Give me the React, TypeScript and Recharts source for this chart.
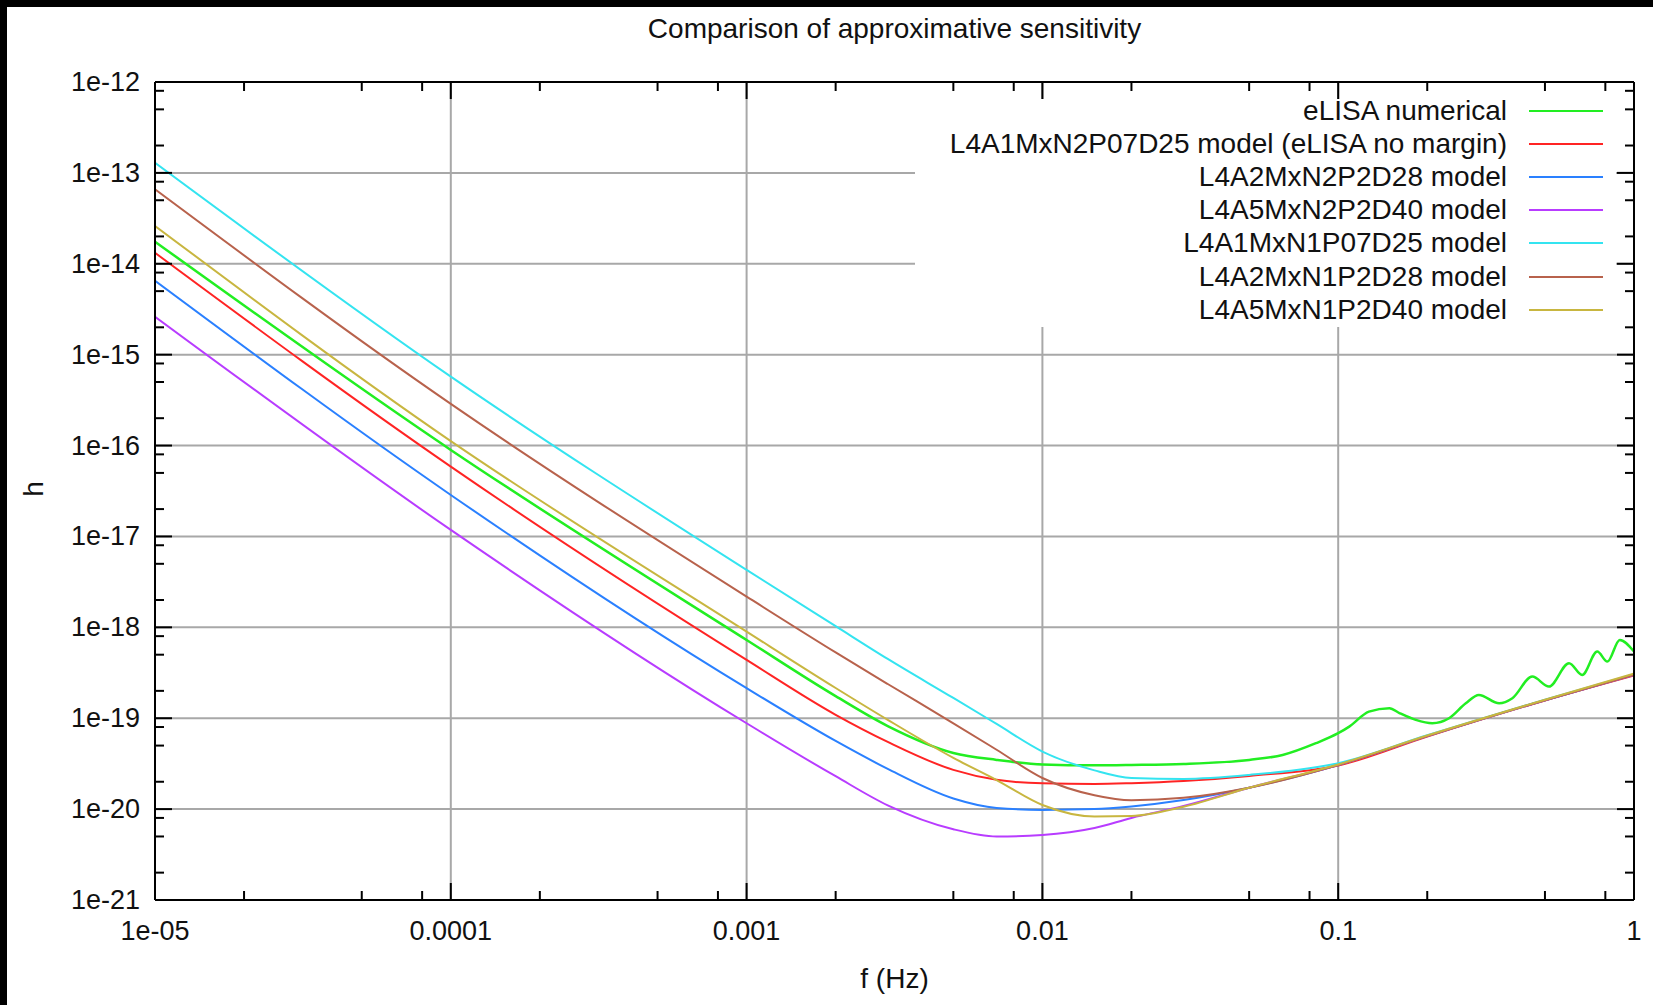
import React from 'react';
import { LineChart, Line, XAxis, YAxis, ReferenceLine } from 'recharts';

const freq = [1e-5, 1e-4, 1e-3, 2e-3, 3e-3, 5e-3, 7e-3, 1e-2, 1.5e-2, 2e-2, 3e-2, 5e-2, 1e-1, 2e-1, 5e-1, 1];

const hA1N2P07D25 = [1.32e-14, 5.86e-17, 4.38e-19, 1.09e-19, 5.49e-20, 2.7e-20, 2.1e-20, 1.92e-20, 1.89e-20, 1.93e-20, 2.04e-20, 2.32e-20, 3.02e-20, 6.3e-20, 1.57e-19, 2.95e-19];
const hA2N2P2D28 = [6.52e-15, 2.86e-17, 2.14e-19, 5.62e-20, 2.77e-20, 1.31e-20, 1.03e-20, 9.8e-21, 1.0e-20, 1.07e-20, 1.26e-20, 1.72e-20, 3.06e-20, 6.35e-20, 1.58e-19, 3.0e-19];
const hA5N2P2D40 = [2.62e-15, 1.18e-17, 8.8e-20, 2.3e-20, 1.1e-20, 6.0e-21, 5.0e-21, 5.2e-21, 6.2e-21, 8.0e-21, 1.08e-20, 1.72e-20, 3.06e-20, 6.35e-20, 1.58e-19, 3.0e-19];
const hA1N1P07D25 = [1.29e-13, 5.73e-16, 4.28e-18, 1.03e-18, 4.49e-19, 1.67e-19, 8.65e-20, 4.3e-20, 2.67e-20, 2.2e-20, 2.15e-20, 2.38e-20, 3.2e-20, 6.5e-20, 1.6e-19, 3.05e-19];
const hA2N1P2D28 = [6.6e-14, 2.87e-16, 2.18e-18, 5.3e-19, 2.38e-19, 8.8e-20, 4.5e-20, 2.2e-20, 1.42e-20, 1.25e-20, 1.33e-20, 1.72e-20, 3.06e-20, 6.35e-20, 1.58e-19, 3.0e-19];
const hA5N1P2D40 = [2.61e-14, 1.12e-16, 8.97e-19, 2.15e-19, 9.6e-20, 3.66e-20, 2.09e-20, 1.11e-20, 8.3e-21, 8.4e-21, 1.06e-20, 1.72e-20, 3.1e-20, 6.45e-20, 1.6e-19, 3.1e-19];

// eLISA numerical curve, denser at high f for the bumps
const elisaFreq = [1e-5, 1e-4, 1e-3, 2e-3, 3e-3, 5e-3, 7e-3, 1e-2, 1.5e-2, 2e-2, 3e-2, 5e-2, 0.0649, 0.0841, 0.1, 0.109, 0.127, 0.149, 0.161, 0.183, 0.208, 0.237, 0.27, 0.299, 0.35, 0.388, 0.453, 0.516, 0.603, 0.668, 0.751, 0.813, 0.895, 1];
const elisaH = [1.75e-14, 8.95e-17, 7.26e-19, 1.75e-19, 8.2e-20, 4.15e-20, 3.48e-20, 3.1e-20, 3.03e-20, 3.06e-20, 3.14e-20, 3.48e-20, 3.94e-20, 5.31e-20, 6.84e-20, 8.09e-20, 1.18e-19, 1.29e-19, 1.14e-19, 9.58e-20, 8.81e-20, 1.0e-19, 1.46e-19, 1.8e-19, 1.46e-19, 1.66e-19, 2.87e-19, 2.23e-19, 4.03e-19, 2.99e-19, 5.41e-19, 4.2e-19, 7.27e-19, 5.41e-19];

const xMajor = [1e-5, 1e-4, 1e-3, 1e-2, 1e-1, 1];
const xLabels = ['1e-05', '0.0001', '0.001', '0.01', '0.1', '1'];
const yMajor = [1e-21, 1e-20, 1e-19, 1e-18, 1e-17, 1e-16, 1e-15, 1e-14, 1e-13, 1e-12];
const yLabels = ['1e-21', '1e-20', '1e-19', '1e-18', '1e-17', '1e-16', '1e-15', '1e-14', '1e-13', '1e-12'];
const minorSteps = [2, 5, 8];

const pts = (fs: number[], hs: number[]) => fs.map((f, i) => ({ f, h: hs[i] }));

const series = [
  { name: 'eLISA numerical', color: '#22ee22', width: 2.5, data: pts(elisaFreq, elisaH) },
  { name: 'L4A1MxN2P07D25 model (eLISA no margin)', color: '#ff2424', width: 2, data: pts(freq, hA1N2P07D25) },
  { name: 'L4A2MxN2P2D28 model', color: '#2a80ff', width: 2, data: pts(freq, hA2N2P2D28) },
  { name: 'L4A5MxN2P2D40 model', color: '#b83cff', width: 2, data: pts(freq, hA5N2P2D40) },
  { name: 'L4A1MxN1P07D25 model', color: '#34e4f0', width: 2, data: pts(freq, hA1N1P07D25) },
  { name: 'L4A2MxN1P2D28 model', color: '#b8624c', width: 2, data: pts(freq, hA2N1P2D28) },
  { name: 'L4A5MxN1P2D40 model', color: '#c8b640', width: 2, data: pts(freq, hA5N1P2D40) },
];

const withMinor = (majors: number[]) => {
  const out: number[] = [];
  majors.forEach((m, i) => {
    out.push(m);
    if (i < majors.length - 1) minorSteps.forEach((s) => out.push(m * s));
  });
  return out;
};

const FONT = '"Liberation Sans", Arial, Helvetica, sans-serif';
const W = 1653;
const H = 1005;
const Y_AXIS_W = 140;
const X_AXIS_H = 60;
const M = { top: 82, right: 19, bottom: 45, left: 15 };
const PLOT_TOP = M.top;
const PLOT_LEFT = M.left + Y_AXIS_W;
const PLOT_RIGHT = W - M.right;

const majorIndex = (v: number, majors: number[]) =>
  majors.findIndex((m) => Math.abs(Math.log10(v) - Math.log10(m)) < 1e-6);

const XTick = (props: any) => {
  const { x, y, payload } = props;
  const idx = majorIndex(payload.value, xMajor);
  const len = idx >= 0 ? 17 : 9;
  return (
    <g>
      <line x1={x} y1={y} x2={x} y2={y - len} stroke="#000" strokeWidth={2} />
      <line x1={x} y1={PLOT_TOP} x2={x} y2={PLOT_TOP + len} stroke="#000" strokeWidth={2} />
      {idx >= 0 && (
        <text x={x} y={y + 31} textAnchor="middle" dominantBaseline="central" fontSize={27} fontFamily={FONT} fill="#111">
          {xLabels[idx]}
        </text>
      )}
    </g>
  );
};

const YTick = (props: any) => {
  const { x, y, payload } = props;
  const idx = majorIndex(payload.value, yMajor);
  const len = idx >= 0 ? 17 : 9;
  return (
    <g>
      <line x1={x} y1={y} x2={x + len} y2={y} stroke="#000" strokeWidth={2} />
      <line x1={PLOT_RIGHT} y1={y} x2={PLOT_RIGHT - len} y2={y} stroke="#000" strokeWidth={2} />
      {idx >= 0 && (
        <text x={x - 15} y={y} textAnchor="end" dominantBaseline="central" fontSize={27} fontFamily={FONT} fill="#111">
          {yLabels[idx]}
        </text>
      )}
    </g>
  );
};

export default function App() {
  return (
    <div style={{ position: 'absolute', left: 0, top: 0, width: W, height: H, background: '#fff', fontFamily: FONT, overflow: 'hidden' }}>
      <LineChart width={W} height={H} margin={M}>
        {xMajor.slice(1, -1).map((v) => (
          <ReferenceLine key={'gx' + v} x={v} stroke="#a8a8a8" strokeWidth={2} />
        ))}
        {yMajor.slice(1, -1).map((v) => (
          <ReferenceLine key={'gy' + v} y={v} stroke="#a8a8a8" strokeWidth={2} />
        ))}
        <XAxis
          dataKey="f"
          type="number"
          scale="log"
          domain={[1e-5, 1]}
          allowDataOverflow
          ticks={withMinor(xMajor)}
          interval={0}
          height={X_AXIS_H}
          tickSize={0}
          tickMargin={0}
          tickLine={false}
          axisLine={{ stroke: '#000', strokeWidth: 2 }}
          tick={(p: any) => <XTick {...p} />}
        />
        <YAxis
          dataKey="h"
          type="number"
          scale="log"
          domain={[1e-21, 1e-12]}
          allowDataOverflow
          ticks={withMinor(yMajor)}
          interval={0}
          width={Y_AXIS_W}
          tickSize={0}
          tickMargin={0}
          tickLine={false}
          axisLine={{ stroke: '#000', strokeWidth: 2 }}
          tick={(p: any) => <YTick {...p} />}
        />
        {series.map((s) => (
          <Line
            key={s.name}
            data={s.data}
            dataKey="h"
            name={s.name}
            type="monotone"
            stroke={s.color}
            strokeWidth={s.width}
            dot={false}
            isAnimationActive={false}
          />
        ))}
        <ReferenceLine x={1} stroke="#000" strokeWidth={2} />
        <ReferenceLine y={1e-12} stroke="#000" strokeWidth={2} />
      </LineChart>

      {/* key box, opaque like gnuplot's */}
      <div style={{ position: 'absolute', left: 915, top: 99, width: 701, height: 228, background: '#fff' }}>
        {series.map((s, i) => (
          <div key={s.name} style={{ position: 'absolute', top: 12 + 33.1 * i - 17, left: 0, width: 701, height: 34 }}>
            <div style={{ position: 'absolute', right: 109, top: 0, lineHeight: '34px', fontSize: 28, color: '#111', whiteSpace: 'nowrap' }}>
              {s.name}
            </div>
            <div style={{ position: 'absolute', left: 614, top: 16, width: 74, height: 2, background: s.color }} />
          </div>
        ))}
      </div>

      <div style={{ position: 'absolute', left: 0, top: 0, width: W, height: 7, background: '#000' }} />
      <div style={{ position: 'absolute', left: 0, top: 0, width: 7, height: H, background: '#000' }} />

      <div style={{ position: 'absolute', left: PLOT_LEFT, width: PLOT_RIGHT - PLOT_LEFT, top: 12, lineHeight: '34px', textAlign: 'center', fontSize: 28, color: '#111' }}>
        Comparison of approximative sensitivity
      </div>
      <div style={{ position: 'absolute', left: PLOT_LEFT, width: PLOT_RIGHT - PLOT_LEFT, top: 962, lineHeight: '34px', textAlign: 'center', fontSize: 28, color: '#111' }}>
        f (Hz)
      </div>
      <div style={{ position: 'absolute', left: 34, top: 489, width: 0, height: 0 }}>
        <div style={{ position: 'absolute', left: -20, top: -17, width: 40, lineHeight: '34px', textAlign: 'center', fontSize: 28, color: '#111', transform: 'rotate(-90deg)' }}>
          h
        </div>
      </div>
    </div>
  );
}
